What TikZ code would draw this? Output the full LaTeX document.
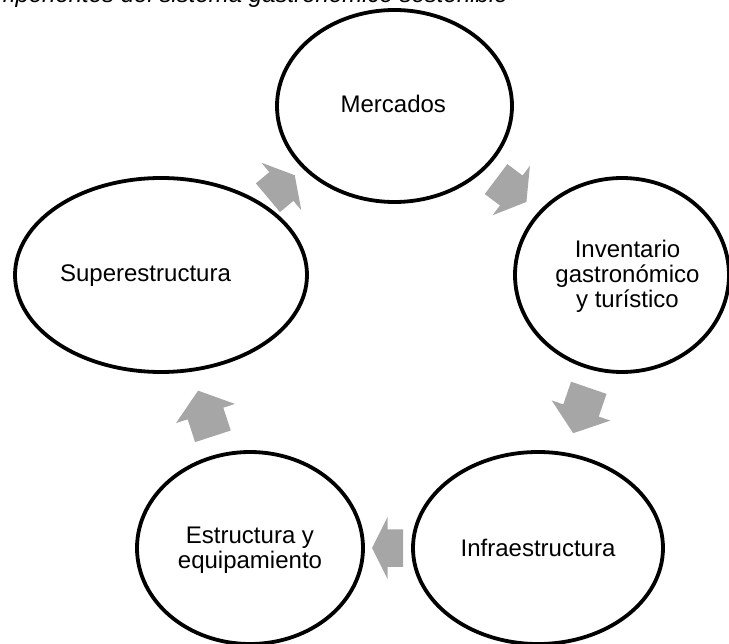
\documentclass[tikz,border=0pt]{standalone}
\usepackage{fontspec}
\setmainfont{Liberation Sans}
\usetikzlibrary{shapes.geometric,calc}
\definecolor{arrowgray}{RGB}{166,166,166}
\begin{document}
\begin{tikzpicture}[x=1pt,y=-1pt,
  bubble/.style={draw=black, line width=3.8pt, ellipse, inner sep=0pt},
  lbl/.style={font=\fontsize{24}{25}\selectfont, align=center, inner sep=0pt},
  pics/cyclearrow/.style={code={
    \fill[arrowgray] (-#1,-18.75) -- (0,-18.75) -- (0,-31) -- (#1,0)
      -- (0,31) -- (0,18.75) -- (-#1,18.75) -- cycle;}}]
\useasboundingbox (0,0) rectangle (729,644);
\clip (0,0) rectangle (729,644);

% title (cut at the top of the picture)
\node[font=\itshape\fontsize{24}{25}\selectfont, anchor=base east, inner sep=0pt]
  (title) at (508,3) {Componentes del sistema gastronómico sostenible};

% ellipses
\node[bubble, minimum width=235pt, minimum height=192pt] (mer) at (394.5,106) {};
\node[bubble, minimum width=214pt, minimum height=194pt] (inv) at (622,275) {};
\node[bubble, minimum width=292pt, minimum height=194pt] (sup) at (161,275) {};
\node[bubble, minimum width=226pt, minimum height=192pt] (est) at (250,548) {};
\node[bubble, minimum width=250pt, minimum height=192pt] (inf) at (538,548) {};

% labels
\node[lbl, anchor=base] (merT) at (393.3,112.7) {Mercados};
\node[lbl] (invT) at (627.5,276.5) {Inventario\\gastronómico\\y turístico};
\node[lbl, anchor=base] (supT) at (145.5,281.7) {Superestructura};
\node[lbl] (estT) at (250,550) {Estructura y\\equipamiento};
\node[lbl, anchor=base] (infT) at (538,556.7) {Infraestructura};

% cycle arrows
\pic[rotate=40]   at ($(sup)!0.5!(mer)+(3.6,-4)$) {cyclearrow=17.5};
\pic[rotate=-37]  at ($(mer)!0.5!(inv)+(3,0)$)    {cyclearrow=19};
\pic[rotate=-109] at ($(inv)!0.5!(inf)+(1,-1)$)   {cyclearrow=24};
\pic[rotate=180]  at ($(inf)!0.5!(est)+(-6.5,0)$) {cyclearrow=15.5};
\pic[rotate=108]  at ($(est)!0.5!(sup)+(0,2)$)    {cyclearrow=24};
\end{tikzpicture}
\end{document}
